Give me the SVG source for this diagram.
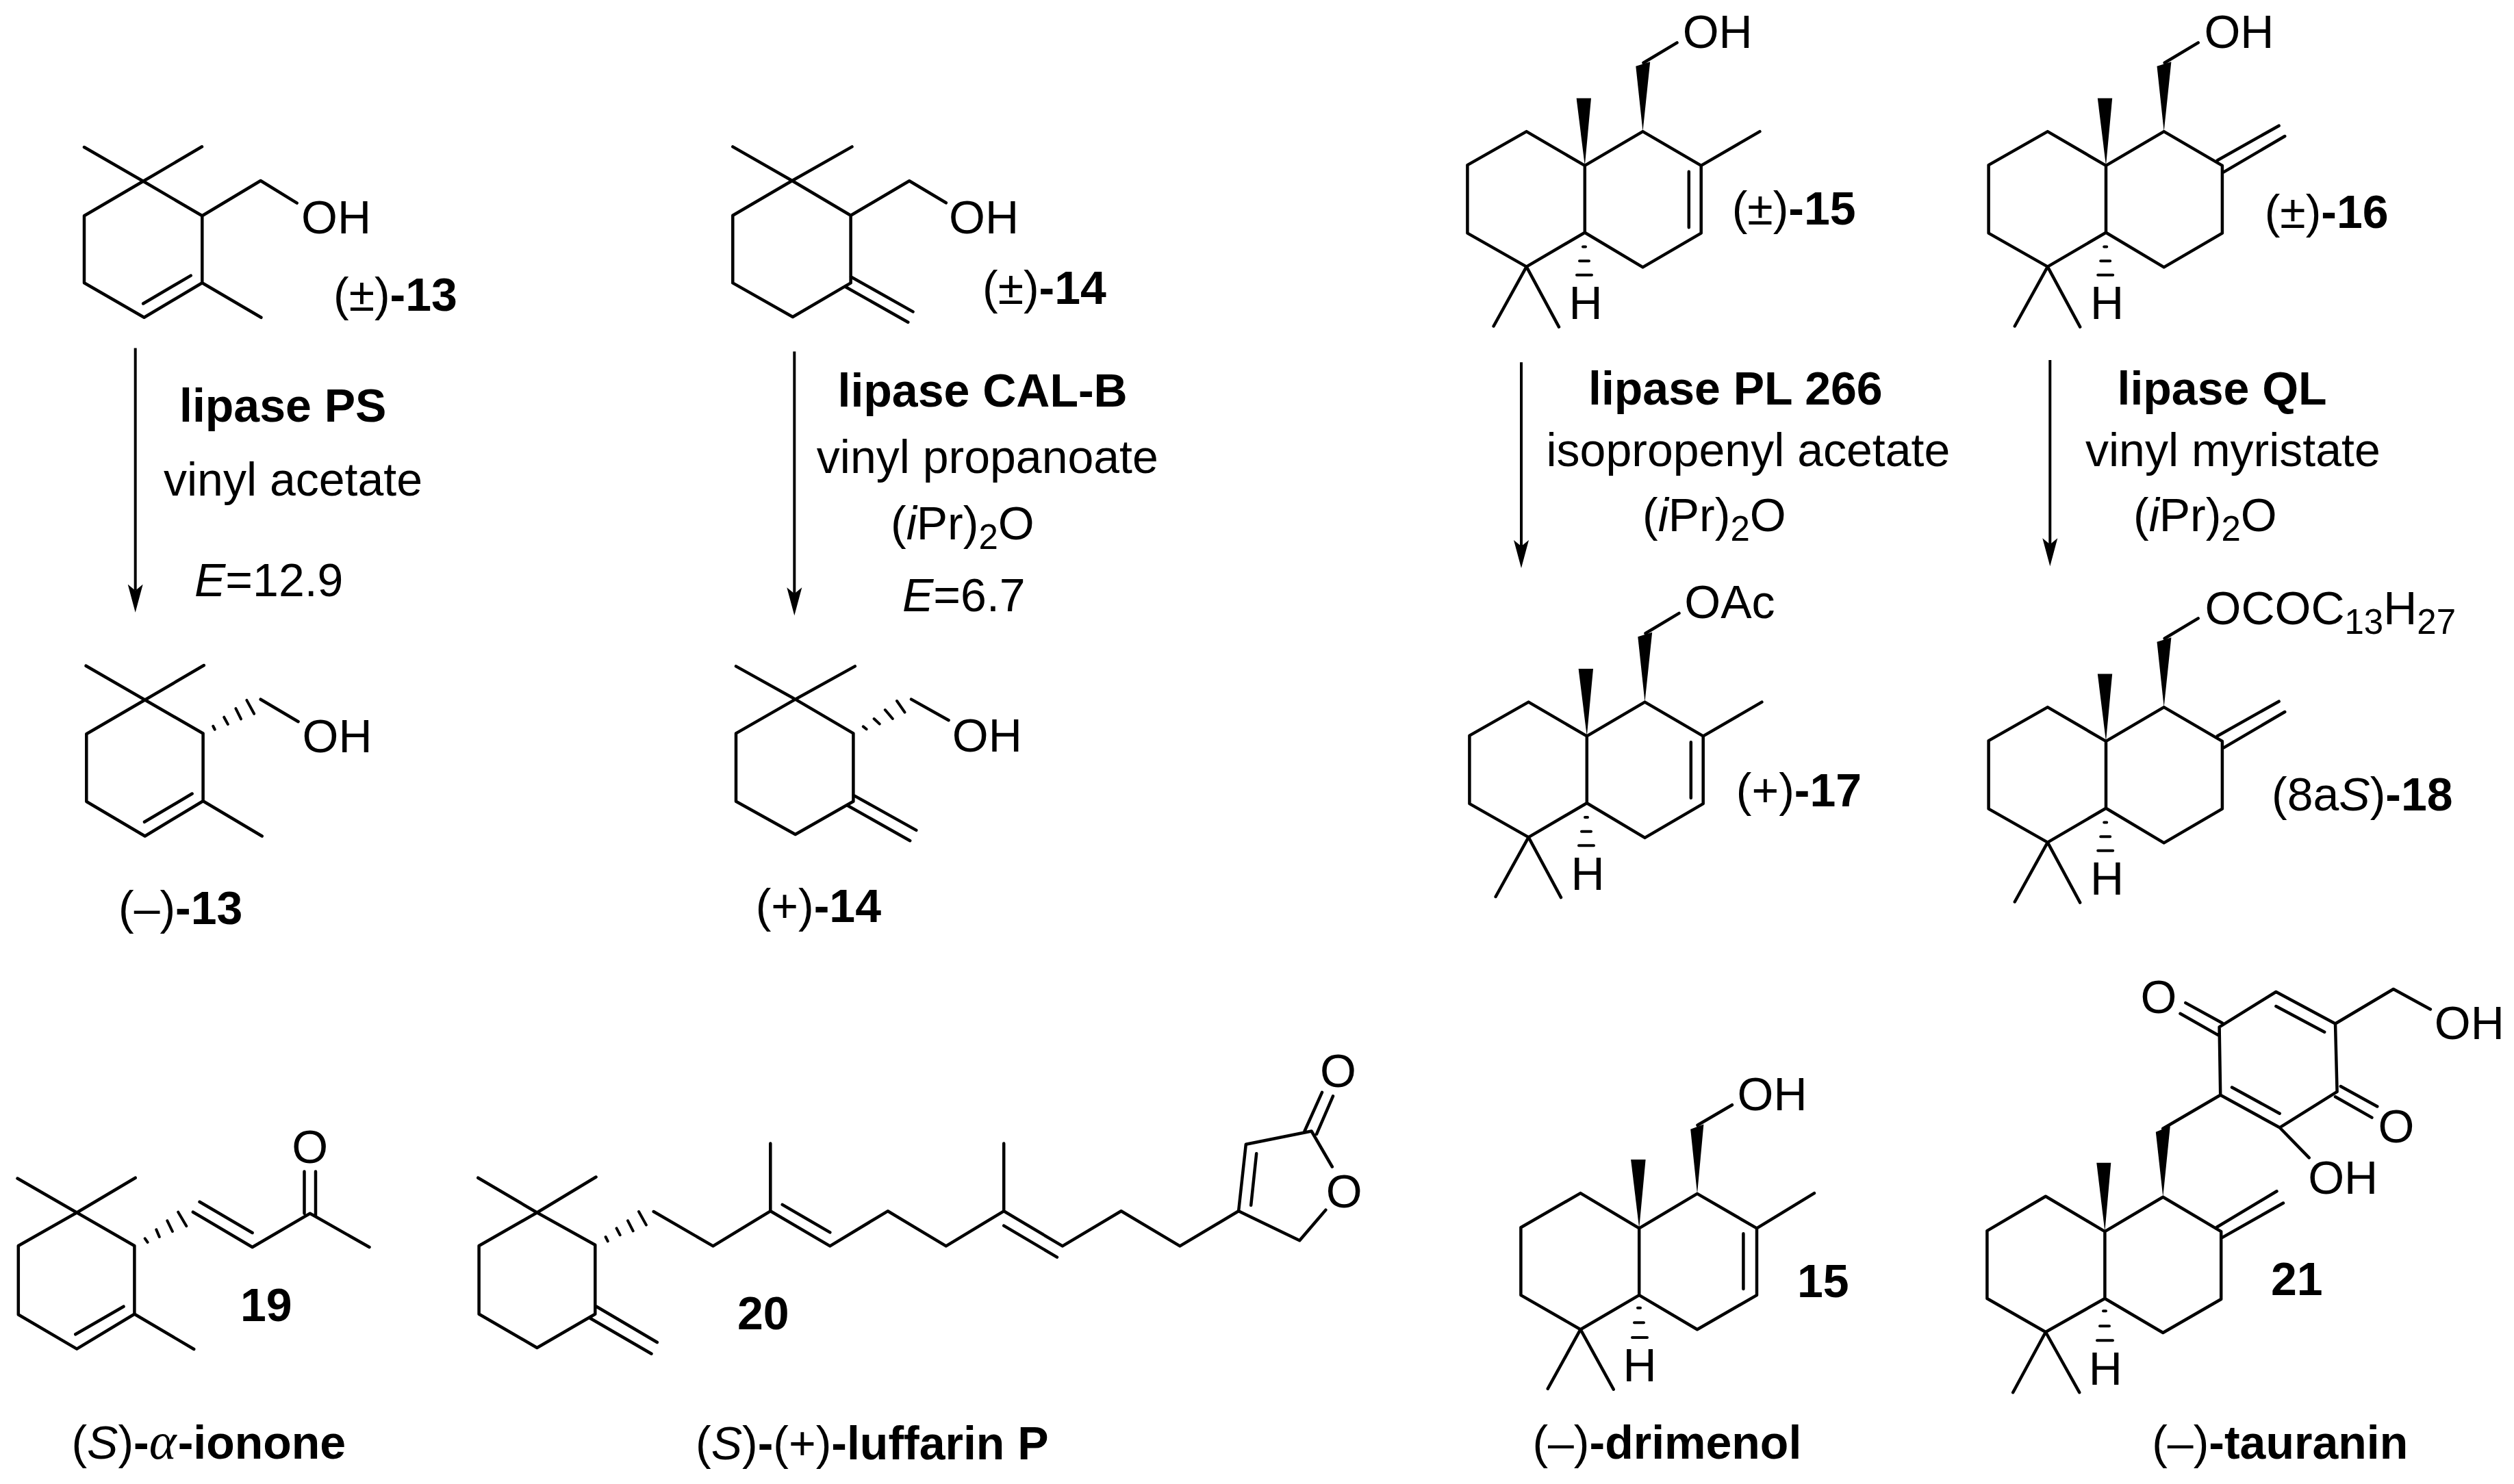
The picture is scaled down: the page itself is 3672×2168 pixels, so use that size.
<svg xmlns="http://www.w3.org/2000/svg" xmlns:xlink="http://www.w3.org/1999/xlink" width="3672" height="2168" viewBox="0 0 3672 2168">
<style>
.b{fill:none;stroke:#000;stroke-width:4.5;stroke-linejoin:round;stroke-linecap:round}
.h{fill:none;stroke:#000;stroke-width:4;stroke-linecap:round}
.w{fill:#000;stroke:none}
.a{fill:none;stroke:#000;stroke-width:4}
text{font-family:"Liberation Sans",Arial,sans-serif;font-size:68px;fill:#000}
.bd{font-weight:bold}
.it{font-style:italic}
.sb{font-size:51px}
.gr{font-family:"Liberation Serif",serif;font-style:italic;font-size:76px}
</style>
<defs>
<marker id="ah" markerUnits="userSpaceOnUse" markerWidth="42" markerHeight="24" viewBox="0 0 42 24" refX="9" refY="12" orient="auto"><path d="M41 12L0 1L9 12L0 23Z" fill="#000"/></marker>
<g id="skel">
<path class="b" d="M2314.8 241.9L2229.6 192.1L2143.4 241.1V340.6L2229.6 389.6L2314.8 339.8V241.9L2399.5 192.1L2484.7 241.9V340.6L2399.5 390.4L2314.8 339.8M2181.6 476.5L2229.6 389.6L2277 477.6M2400.5 91.8L2449.5 62.4"/>
<polygon class="w" points="2314.8,241.9 2302.6,143.5 2324,143.5"/>
<polygon class="w" points="2399.5,192.1 2389.3,96.8 2410.2,90.3"/>
<path class="h" d="M2312 360.5H2316M2307 381.2H2321M2303 401.8H2325"/>
</g>
<path id="eneA" class="b" d="M2484.7 241.9L2570.4 192.1M2466.8 250.7V332.2"/>
<path id="exoA" class="b" d="M2477.6 234.2L2567.4 183.7M2486.8 251.4L2576 199"/>
</defs>
<rect width="3672" height="2168" fill="#fff"/>
<g id="connectors">
<line class="a" x1="197.7" y1="508.6" x2="197.7" y2="862.7" marker-end="url(#ah)"/>
<line class="a" x1="1160.3" y1="513.6" x2="1160.3" y2="867.2" marker-end="url(#ah)"/>
<line class="a" x1="2222" y1="529.3" x2="2222" y2="798" marker-end="url(#ah)"/>
<line class="a" x1="2994.3" y1="526" x2="2994.3" y2="795.3" marker-end="url(#ah)"/>
</g>
<g id="mol-13-rac">
<path class="b" d="M123 215L209.2 264.8L295 214.3M209.2 264.8L123 315.3V413.3L210.5 463.8L295.3 413.3V315.3L209.2 264.8M295.3 315.3L380.7 264L433.7 296.6M295.3 413.3L381.4 463.8M278.7 402.6L209.2 443.5"/>
<text x="440" y="341.3">OH</text>
<text x="487" y="454">(±)<tspan class="bd">-13</tspan></text>
</g>
<g id="cond-13">
<text class="bd" x="262" y="616">lipase PS</text>
<text x="239" y="724">vinyl acetate</text>
<text x="284" y="870.6"><tspan class="it">E</tspan>=12.9</text>
</g>
<g id="mol-13-minus">
<path class="b" d="M125.6 972.7L211.7 1022.5L297.8 972M211.7 1022.5L126.3 1072.2V1171L211.7 1221.5L296.6 1170.2V1071.5L211.7 1022.5M296.6 1170.2L382.7 1221.5M280.6 1159.5L211 1200.8M380.7 1021.7L435.6 1054.2"/>
<path class="h" d="M311.2 1060.8L313.8 1065.7M327.2 1047.7L332.9 1058.1M344.4 1035.1L352 1050.4M360.3 1022.9L371.2 1042.8"/>
<text x="441.5" y="1099.4">OH</text>
<text x="173" y="1350">(–)<tspan class="bd">-13</tspan></text>
</g>
<g id="mol-14-rac">
<path class="b" d="M1070.3 214.4L1157 264L1244.5 214.4M1157 264L1070.3 314.7V413.4L1157.9 463L1242.6 413.4V314.7L1157 264M1242.6 314.7L1328.2 264.2L1381.8 296.3M1242.6 404.2L1333.5 455.4M1234.4 418.7L1326.3 470.7"/>
<text x="1386" y="340.7">OH</text>
<text x="1435" y="444">(±)<tspan class="bd">-14</tspan></text>
</g>
<g id="cond-14">
<text class="bd" x="1223.5" y="594">lipase CAL-B</text>
<text x="1192.8" y="691">vinyl propanoate</text>
<text x="1301" y="788">(<tspan class="it">i</tspan>Pr)<tspan class="sb" dy="14">2</tspan><tspan dy="-14">O</tspan></text>
<text x="1318" y="893"><tspan class="it">E</tspan>=6.7</text>
</g>
<g id="mol-14-plus">
<path class="b" d="M1075 973.4L1161.7 1021.6L1248.8 973.4M1161.7 1021.6L1075 1071.4V1170.8L1161.7 1219L1246.4 1170.8V1071.4L1161.7 1021.6M1331 1021.6L1385.6 1052.2M1246.4 1161.6L1338.3 1212.9M1238.3 1177L1329.2 1228.2"/>
<path class="h" d="M1260.8 1061.4L1265.6 1065.2M1276.6 1050L1284.7 1057.6M1292.8 1037L1303.8 1050M1310 1024L1321.5 1040.7"/>
<text x="1390.8" y="1098">OH</text>
<text x="1103.7" y="1346.8">(+)<tspan class="bd">-14</tspan></text>
</g>
<g id="mol-15-rac">
<use xlink:href="#skel" href="#skel"/>
<use xlink:href="#eneA" href="#eneA"/>
<text x="2457.7" y="70.4">OH</text>
<text text-anchor="middle" x="2316" y="466">H</text>
<text x="2529.7" y="328.4">(±)<tspan class="bd">-15</tspan></text>
</g>
<g id="cond-15">
<text class="bd" x="2320" y="591.3">lipase PL 266</text>
<text x="2258.5" y="680.7">isopropenyl acetate</text>
<text x="2399" y="776">(<tspan class="it">i</tspan>Pr)<tspan class="sb" dy="14">2</tspan><tspan dy="-14">O</tspan></text>
</g>
<g id="mol-16-rac">
<use xlink:href="#skel" href="#skel" transform="translate(761.2,0)"/>
<use xlink:href="#exoA" href="#exoA" transform="translate(761.2,0)"/>
<text x="3219.4" y="70.4">OH</text>
<text text-anchor="middle" x="3077.6" y="466">H</text>
<text x="3307.7" y="333">(±)<tspan class="bd">-16</tspan></text>
</g>
<g id="cond-16">
<text class="bd" x="3092.5" y="591.3">lipase QL</text>
<text x="3046" y="680.7">vinyl myristate</text>
<text x="3116" y="776">(<tspan class="it">i</tspan>Pr)<tspan class="sb" dy="14">2</tspan><tspan dy="-14">O</tspan></text>
</g>
<g id="mol-17">
<g transform="translate(3,833.5)"><use xlink:href="#skel" href="#skel"/><use xlink:href="#eneA" href="#eneA"/></g>
<text x="2460.3" y="903.3">OAc</text>
<text text-anchor="middle" x="2319" y="1299.5">H</text>
<text x="2535.8" y="1177.7">(+)<tspan class="bd">-17</tspan></text>
</g>
<g id="mol-18">
<g transform="translate(761.2,841)"><use xlink:href="#skel" href="#skel"/><use xlink:href="#exoA" href="#exoA"/></g>
<text x="3220.5" y="911.7">OCOC<tspan class="sb" dy="14">13</tspan><tspan dy="-14">H</tspan><tspan class="sb" dy="14">27</tspan></text>
<text text-anchor="middle" x="3077.6" y="1307">H</text>
<text x="3318" y="1183.8">(8a<tspan class="it">S</tspan>)<tspan class="bd">-18</tspan></text>
</g>
<g id="mol-19">
<path class="b" d="M25.5 1721.5L112.2 1771.5L197.7 1720.7M112.2 1771.5L26.8 1820V1920.5L112.2 1970.6L196.4 1919.7V1820L112.2 1771.5M196.4 1919.7L283.2 1971M180.5 1908.7L110.3 1949.3M281.9 1770.7L368.6 1822L452.8 1772.7L539.5 1822M291.5 1755.8L368.6 1801M444.5 1772.7V1711.6M461 1775.5V1711.6"/>
<path class="h" d="M211.7 1809.4L215.6 1814.9M228.3 1796.4L232.8 1807M244.3 1783.3L251.9 1799M260.2 1770.7L272.3 1791.2"/>
<text text-anchor="middle" x="452.8" y="1699">O</text>
<text class="bd" x="351" y="1930.4">19</text>
<text x="104.4" y="2131.4">(<tspan class="it">S</tspan>)<tspan class="bd">-</tspan><tspan class="gr">α</tspan><tspan class="bd" dx="2">-ionone</tspan></text>
</g>
<g id="mol-20">
<path class="b" d="M698.3 1720.7L784.4 1771.5L870.5 1719.5M784.4 1771.5L699.6 1820V1919.7L784.4 1969L869.3 1919.7V1818.8L784.4 1771.5M871.2 1908.7L959.8 1961M861 1925.2L951.5 1977.7M954.7 1770L1041.5 1820.4L1125.3 1769.3L1212.3 1820.4L1296.7 1769.3L1381.8 1820.4L1466.2 1769.3L1551.9 1820.4L1637.6 1769.3L1723.4 1820.4L1809.1 1769.3L1819.8 1671.7L1915.6 1652.5L1945.8 1704.5M1936.4 1767.6L1898.2 1812.3L1809.1 1769.3M1125.3 1769.3V1670.4M1142.7 1759.9L1212.3 1800.4M1466.2 1769.3V1670.4M1466.2 1790.6L1543.9 1836.6M1835.2 1685.3L1827.2 1760.8M1905.5 1652.5L1931 1595.9M1923 1656.8L1947 1601.4"/>
<path class="h" d="M884.6 1807L887.8 1813.3M900.5 1794.4L905.6 1804.2M917 1783.3L924.7 1798.3M933 1770L943.9 1789.6"/>
<text text-anchor="middle" x="1954.5" y="1587.5">O</text>
<text text-anchor="middle" x="1963.2" y="1764">O</text>
<text class="bd" x="1077" y="1941.8">20</text>
<text x="1016" y="2131.9">(<tspan class="it">S</tspan>)<tspan class="bd">-</tspan>(+)<tspan class="bd">-luffarin P</tspan></text>
</g>
<g id="mol-drimenol">
<path class="b" d="M2394.2 1794.4L2308.5 1743.1L2221.4 1793.2V1892.1L2308.5 1942.2L2394.2 1892.1V1794.4L2479 1743.9L2566 1794.4V1892.1L2479 1942.2L2394.2 1892.1M2566 1794.4L2650 1743.1M2546.4 1802.3V1883M2260.7 2028.9L2308.5 1942.2L2356.7 2029.7M2479.5 1643.8L2529.9 1614.2"/>
<polygon class="w" points="2394.2,1794.4 2382.1,1693.9 2403.6,1693.9"/>
<polygon class="w" points="2479,1743.9 2469.2,1649.7 2488.4,1642.6"/>
<path class="h" d="M2392 1910.7H2396M2387 1932.3H2401M2384 1954H2406"/>
<text x="2537.6" y="1621.7">OH</text>
<text text-anchor="middle" x="2395" y="2018.3">H</text>
<text class="bd" x="2625" y="1894.9">15</text>
<text x="2238.4" y="2131.4">(–)<tspan class="bd">-drimenol</tspan></text>
</g>
<g id="mol-tauranin">
<path class="b" d="M3074.4 1799.1L2987.9 1747.7L2902.4 1798.1V1897L2987.9 1946L3074.4 1897V1799.1L3159.3 1748.7L3244.2 1799.1V1898L3159.3 1947L3074.4 1897M2940.2 2034.2L2987.9 1946L3037.2 2034.2M3238 1792.7L3325.5 1740.3M3244.2 1808.9L3335 1757.5M3159.3 1648.8L3243.2 1599.8L3241.6 1500.4L3324.4 1449L3411 1495.5L3413.6 1594.9L3329.7 1647.3L3243.2 1599.8M3260 1588.5L3329.7 1626.7M3324.4 1470L3395.2 1507.7M3192.3 1465.1L3245.8 1494.5M3184.5 1480.8L3240.6 1512.6M3411 1495.5L3495.9 1445L3549.9 1474.4M3418.8 1587L3472.3 1616.5M3411 1602.3L3464.4 1632.6M3329.7 1647.3L3372.7 1691.4"/>
<polygon class="w" points="3074.4,1799.1 3062.3,1698.7 3083.3,1698.7"/>
<polygon class="w" points="3159.3,1748.7 3148.8,1653.7 3169.8,1644.9"/>
<path class="h" d="M3072 1915.2H3076M3067 1937.2H3081M3063 1958.3H3086"/>
<text text-anchor="middle" x="3153" y="1480">O</text>
<text x="3555.8" y="1517.5">OH</text>
<text text-anchor="middle" x="3500" y="1668.5">O</text>
<text x="3371.2" y="1744.3">OH</text>
<text text-anchor="middle" x="3075.4" y="2023.4">H</text>
<text class="bd" x="3317" y="1892.2">21</text>
<text x="3143.2" y="2131.1">(–)<tspan class="bd">-tauranin</tspan></text>
</g>
</svg>
